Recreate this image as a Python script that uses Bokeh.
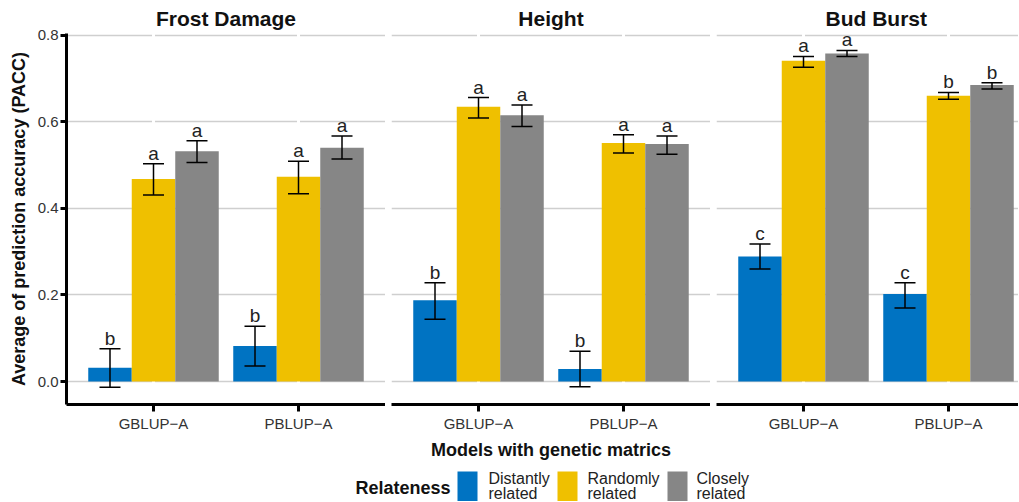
from bokeh.plotting import figure
from bokeh.models import ColumnDataSource, Range1d, FixedTicker, Whisker, TeeHead
from bokeh.transform import dodge
from bokeh.layouts import row, column
from bokeh.embed import file_html
from bokeh.resources import INLINE
from bokeh.core.properties import value

# ---------------- data ----------------
traits = ["Frost Damage", "Height", "Bud Burst"]
models = ["GBLUP\u2212A", "PBLUP\u2212A"]
model_pos = [1, 2]
relateness = ["Distantly related", "Randomly related", "Closely related"]
colors = ["#0073C2", "#EFC000", "#868686"]

# [model][relateness]
frost_mean = [[0.032, 0.468, 0.532], [0.082, 0.473, 0.540]]
frost_lower = [[-0.013, 0.431, 0.506], [0.036, 0.434, 0.514]]
frost_upper = [[0.076, 0.503, 0.556], [0.128, 0.509, 0.567]]
frost_letters = [["b", "a", "a"], ["b", "a", "a"]]

height_mean = [[0.188, 0.635, 0.615], [0.029, 0.551, 0.549]]
height_lower = [[0.144, 0.609, 0.589], [-0.012, 0.528, 0.525]]
height_upper = [[0.228, 0.656, 0.639], [0.070, 0.570, 0.567]]
height_letters = [["b", "a", "a"], ["b", "a", "a"]]

bud_mean = [[0.289, 0.741, 0.758], [0.202, 0.660, 0.685]]
bud_lower = [[0.260, 0.726, 0.751], [0.170, 0.652, 0.676]]
bud_upper = [[0.318, 0.751, 0.765], [0.228, 0.668, 0.690]]
bud_letters = [["c", "a", "a"], ["c", "b", "b"]]

y_ticks = [0.0, 0.2, 0.4, 0.6, 0.8]
y_tick_labels = ["0.0", "0.2", "0.4", "0.6", "0.8"]

x_title = "Models with genetic matrics"
y_title = "Average of prediction accuracy (PACC)"
legend_title = "Relateness"

# ---------------- layout / style ----------------
FONT = "Liberation Sans"
PX_PER_UNIT = 145.0
FRAME_H = 371
TOP = 33
BOTTOM = 60
frame_widths = [319, 319, 302]
left_borders = [66, 6, 6]
offsets = [-0.3, 0.0, 0.3]
BAR_W = 0.3

panel_data = [
    (frost_mean, frost_lower, frost_upper, frost_letters),
    (height_mean, height_lower, height_upper, height_letters),
    (bud_mean, bud_lower, bud_upper, bud_letters),
]


def make_panel(i):
    means, lowers, uppers, letters = panel_data[i]
    fw = frame_widths[i]
    p = figure(
        frame_width=fw, frame_height=FRAME_H,
        x_range=Range1d(0.4, 0.4 + fw / PX_PER_UNIT),
        y_range=Range1d(-0.053, 0.804),
        output_backend="svg", toolbar_location=None,
        min_border_left=left_borders[i], min_border_right=0,
        min_border_top=TOP, min_border_bottom=BOTTOM,
        title=traits[i],
    )
    p.outline_line_color = None
    p.background_fill_color = "white"
    p.border_fill_color = "white"

    # title
    p.title.text_font = FONT
    p.title.text_font_size = "21px"
    p.title.text_font_style = "bold"
    p.title.text_color = "#111111"
    p.title.standoff = 7
    if i < 2:
        p.title.align = "center"
    else:
        p.title.align = "left"
        p.title.offset = 109

    # x axis
    xa = p.xaxis[0]
    xa.ticker = FixedTicker(ticks=model_pos)
    xa.major_label_overrides = {pos: m for pos, m in zip(model_pos, models)}
    xa.axis_line_width = 3
    xa.axis_line_color = "black"
    xa.major_tick_line_width = 3
    xa.major_tick_line_color = "black"
    xa.major_tick_out = 7
    xa.major_tick_in = 0
    xa.minor_tick_line_color = None
    xa.major_label_text_font = FONT
    xa.major_label_text_font_size = "15px"
    xa.major_label_text_color = "#333333"
    xa.major_label_standoff = 3
    if i == 1:
        xa.axis_label = x_title
        xa.axis_label_text_font = FONT
        xa.axis_label_text_font_size = "18px"
        xa.axis_label_text_font_style = "bold"
        xa.axis_label_text_color = "#111111"
        xa.axis_label_standoff = 5

    # y axis
    ya = p.yaxis[0]
    ya.ticker = FixedTicker(ticks=y_ticks)
    ya.major_label_overrides = {t: l for t, l in zip(y_ticks, y_tick_labels)}
    if i == 0:
        ya.axis_line_width = 3
        ya.axis_line_color = "black"
        ya.major_tick_line_width = 3
        ya.major_tick_line_color = "black"
        ya.major_tick_out = 6
        ya.major_tick_in = 0
        ya.minor_tick_line_color = None
        ya.major_label_text_font = FONT
        ya.major_label_text_font_size = "15px"
        ya.major_label_text_color = "#333333"
        ya.major_label_standoff = 2
        ya.axis_label = y_title
        ya.axis_label_text_font = FONT
        ya.axis_label_text_font_size = "18px"
        ya.axis_label_text_font_style = "bold"
        ya.axis_label_text_color = "#111111"
        ya.axis_label_standoff = 6
    else:
        ya.visible = False

    # grids
    p.ygrid.grid_line_color = "#CFCFCF"
    p.ygrid.grid_line_width = 1.3
    p.xgrid.grid_line_color = "white"
    p.xgrid.grid_line_width = 3
    xg = p.xgrid[0]
    p.center = [r for r in p.center if r is not xg] + [xg]

    for j, rel in enumerate(relateness):
        src = ColumnDataSource(dict(
            x=model_pos,
            top=[means[k][j] for k in range(len(models))],
            lower=[lowers[k][j] for k in range(len(models))],
            upper=[uppers[k][j] for k in range(len(models))],
            letter=[letters[k][j] for k in range(len(models))],
        ))
        xd = dodge("x", offsets[j])
        p.vbar(x=xd, top="top", bottom=0, width=BAR_W, source=src,
               fill_color=colors[j], line_color=None)
        w = Whisker(source=src, base=dodge("x", offsets[j]), lower="lower", upper="upper",
                    dimension="height", line_width=1.5, line_color="black",
                    upper_head=TeeHead(size=21, line_width=1.5, line_color="black"),
                    lower_head=TeeHead(size=21, line_width=1.5, line_color="black"),
                    level="overlay")
        p.add_layout(w)
        p.text(x=dodge("x", offsets[j]), y="upper", text="letter", source=src,
               text_align="center", text_baseline="bottom", y_offset=0,
               text_font=value(FONT), text_font_size="19px", text_color="#222222")
    return p


panels = [make_panel(i) for i in range(3)]

# ---------------- legend ----------------
LEG_W, LEG_H = 1018, 37
leg = figure(width=LEG_W, height=LEG_H, x_range=Range1d(0, LEG_W), y_range=Range1d(0, LEG_H),
             output_backend="svg", toolbar_location=None,
             min_border=0, min_border_left=0, min_border_right=0,
             min_border_top=0, min_border_bottom=0)
leg.axis.visible = False
leg.grid.visible = False
leg.outline_line_color = None

key_x = [467, 567, 677]
label_x = [488, 587, 696]
leg.text(x=[355], y=[14], text=[legend_title], text_baseline="middle", text_align="left",
         text_font=value(FONT), text_font_size="18px", text_font_style="bold",
         text_color="#111111")
leg.rect(x=key_x, y=[15] * 3, width=20, height=30, fill_color=colors, line_color=None)
first_lines = [r.split(" ")[0] for r in relateness]
second_lines = [" ".join(r.split(" ")[1:]) for r in relateness]
leg.text(x=label_x, y=[23] * 3, text=first_lines, text_baseline="middle", text_align="left",
         text_font=value(FONT), text_font_size="16px", text_color="#222222")
leg.text(x=label_x, y=[8] * 3, text=second_lines, text_baseline="middle", text_align="left",
         text_font=value(FONT), text_font_size="16px", text_color="#222222")

layout = column(row(*panels, spacing=0), leg, spacing=0)
open("out.html", "w").write(file_html(layout, INLINE))
